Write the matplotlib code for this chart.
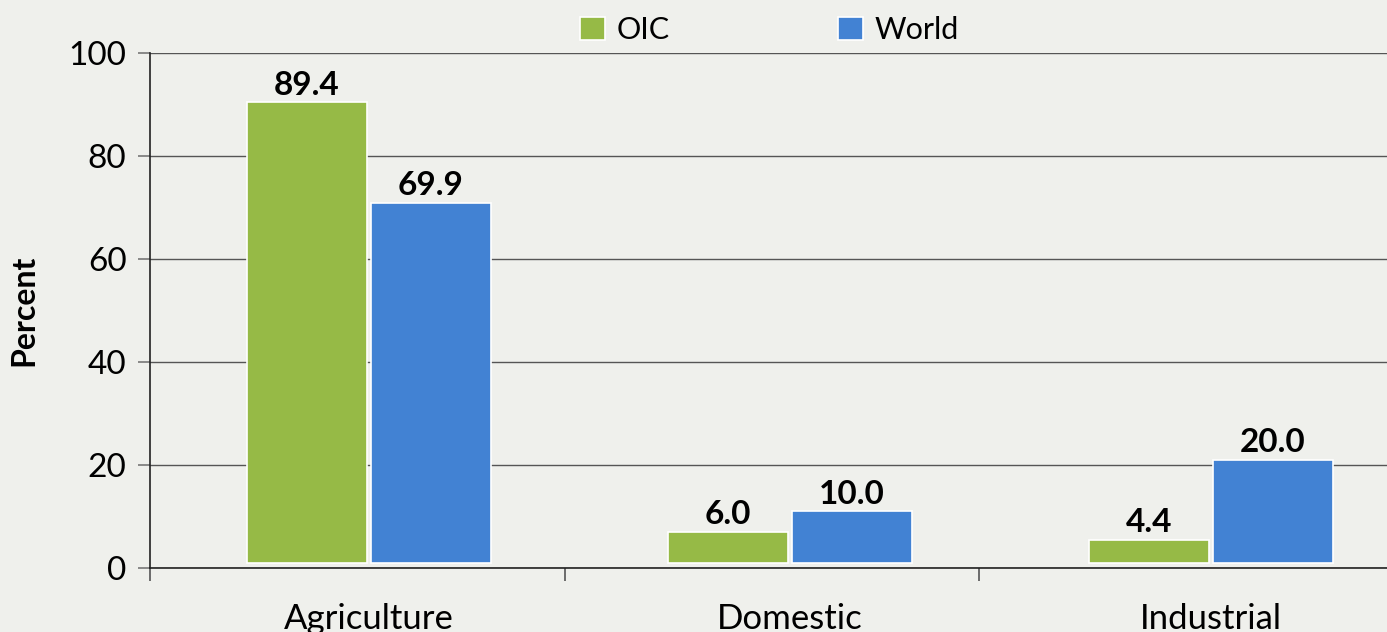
import numpy as np
import matplotlib.pyplot as plt

categories = ["Agriculture", "Domestic", "Industrial"]
oic = [89.4, 6.0, 4.4]
world = [69.9, 10.0, 20.0]
series_names = ["OIC", "World"]
y_ticks = [0, 20, 40, 60, 80, 100]

green = "#96BA46"
blue = "#4282D3"
bg = "#eff0ec"

plt.rcParams['font.family'] = ['Lato', 'DejaVu Sans']

fig = plt.figure(figsize=(13.87, 6.32), dpi=100, facecolor=bg)
ax = fig.add_axes([150 / 1387, 64 / 632, 1237 / 1387, 515 / 632])
ax.set_facecolor('none')

x = np.arange(len(categories))
w = 0.285
gap = 0.005
base = 1.0  # bars sit slightly above the axis line, as in the original
b1 = ax.bar(x - w / 2 - gap, oic, w, bottom=base, color=green,
            edgecolor='white', linewidth=1.2, label=series_names[0], zorder=3)
b2 = ax.bar(x + w / 2 + gap, world, w, bottom=base, color=blue,
            edgecolor='white', linewidth=1.2, label=series_names[1], zorder=3)

for bars, vals in ((b1, oic), (b2, world)):
    for rect, v in zip(bars, vals):
        ax.annotate(f"{v:.1f}", (rect.get_x() + rect.get_width() / 2, base + v),
                    xytext=(0, 2), textcoords='offset points',
                    ha='center', va='bottom', fontsize=24, fontweight='bold')

ax.set_xlim(-0.52, 2.418)
ax.set_ylim(0, 100)
ax.set_yticks(y_ticks)
ax.tick_params(axis='y', labelsize=24, length=9, color='#777777', width=1.2, pad=8)
ax.yaxis.grid(True, color='#555555', linewidth=1.0, zorder=0)

# category labels centred under the bar pairs, tick marks at group edges
ax.set_xticks(x)
ax.set_xticklabels(categories, fontsize=25)
ax.tick_params(axis='x', length=0, pad=25)
ax.set_xticks([-0.52, 0.465, 1.45], minor=True)
ax.tick_params(axis='x', which='minor', length=9, color='#555555', width=1.2)

for s in ['top', 'right']:
    ax.spines[s].set_visible(False)
ax.spines['left'].set_color('#222222')
ax.spines['bottom'].set_color('#222222')
ax.spines['left'].set_linewidth(1.2)
ax.spines['bottom'].set_linewidth(1.2)

ax.set_ylabel("Percent", fontsize=23, fontweight='bold', labelpad=22)

ax.legend(loc='center', bbox_to_anchor=(0.501, 1.045), ncol=2, frameon=False,
          fontsize=22, handlelength=0.8, handleheight=0.8, handletextpad=0.4,
          columnspacing=5.5)

fig.savefig("out.png", dpi=100, facecolor=bg)
